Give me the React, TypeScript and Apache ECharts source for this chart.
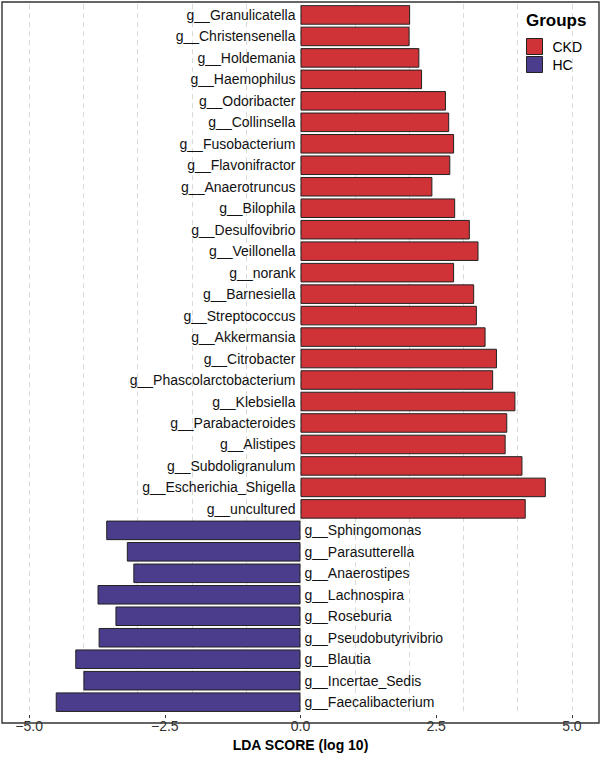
import React, { useEffect, useRef } from "react";
import * as echarts from "echarts";

const categories = [
  "g__Granulicatella", "g__Christensenella", "g__Holdemania", "g__Haemophilus",
  "g__Odoribacter", "g__Collinsella", "g__Fusobacterium", "g__Flavonifractor",
  "g__Anaerotruncus", "g__Bilophila", "g__Desulfovibrio", "g__Veillonella",
  "g__norank", "g__Barnesiella", "g__Streptococcus", "g__Akkermansia",
  "g__Citrobacter", "g__Phascolarctobacterium", "g__Klebsiella", "g__Parabacteroides",
  "g__Alistipes", "g__Subdoligranulum", "g__Escherichia_Shigella", "g__uncultured",
  "g__Sphingomonas", "g__Parasutterella", "g__Anaerostipes", "g__Lachnospira",
  "g__Roseburia", "g__Pseudobutyrivibrio", "g__Blautia", "g__Incertae_Sedis",
  "g__Faecalibacterium",
];

const groups = [
  "CKD", "CKD", "CKD", "CKD", "CKD", "CKD", "CKD", "CKD", "CKD", "CKD", "CKD", "CKD",
  "CKD", "CKD", "CKD", "CKD", "CKD", "CKD", "CKD", "CKD", "CKD", "CKD", "CKD", "CKD",
  "HC", "HC", "HC", "HC", "HC", "HC", "HC", "HC", "HC",
];

const ldaScores = [
  2.02, 2.01, 2.19, 2.24, 2.68, 2.74, 2.83, 2.76, 2.43, 2.85, 3.12, 3.28,
  2.83, 3.2, 3.25, 3.41, 3.62, 3.55, 3.96, 3.81, 3.78, 4.09, 4.52, 4.15,
  -3.58, -3.2, -3.08, -3.74, -3.41, -3.72, -4.15, -4.0, -4.51,
];

const groupNames = ["CKD", "HC"];
const groupColors = ["#CF3338", "#4B3C8C"];
const xTickValues = [-5, -2.5, 0, 2.5, 5];
const gridValues = [-5, -4, -3, -2, -1, 0, 1, 2, 3, 4, 5];

const FONT = "'Liberation Sans', Arial, Helvetica, sans-serif";

export default function App() {
  const ref = useRef<HTMLDivElement>(null);

  useEffect(() => {
    if (!ref.current) return;
    const chart = echarts.init(ref.current, null, { renderer: "svg" });

    const series = groupNames.map((g, gi) => ({
      name: g,
      type: "bar",
      stack: "lda",
      xAxisIndex: 0,
      barCategoryGap: "9%",
      data: ldaScores.map((v, i) => (groups[i] === g ? v : null)),
      itemStyle: {
        color: groupColors[gi],
        borderColor: "#222222",
        borderWidth: 1,
      },
      label: {
        show: true,
        position: gi === 0 ? "left" : "right",
        distance: gi === 0 ? 5 : 4,
        formatter: (p: any) => p.name,
        color: "#111111",
        fontSize: 14,
        fontFamily: FONT,
      },
    }));

    const fmt = (v: number) => {
      const s = Math.abs(v).toFixed(1);
      return v < 0 ? "\u2212" + s : s;
    };

    chart.setOption({
      animation: false,
      backgroundColor: "#ffffff",
      textStyle: { fontFamily: FONT },
      title: {
        text: "Groups",
        left: 526,
        top: 12,
        padding: 0,
        textStyle: { fontSize: 17, fontWeight: "bold", color: "#000000", fontFamily: FONT },
      },
      legend: {
        data: groupNames,
        orient: "vertical",
        left: 526,
        top: 38,
        padding: 0,
        itemWidth: 16,
        itemHeight: 16,
        itemGap: 1,
        icon: "rect",
        itemStyle: { borderColor: "#222222", borderWidth: 1 },
        textStyle: { fontSize: 14, color: "#000000", fontFamily: FONT, padding: [0, 0, 0, 5] },
      },
      grid: {
        left: 2,
        right: 1,
        top: 4.2,
        bottom: 36.2,
        containLabel: false,
      },
      xAxis: [
        {
          type: "value",
          min: -5.5,
          max: 5.5,
          offset: 2.2,
          position: "bottom",
          axisLine: { show: false },
          axisTick: {
            show: true,
            length: 3,
            customValues: xTickValues,
            lineStyle: { color: "#333333", width: 1 },
          },
          axisLabel: {
            show: true,
            customValues: xTickValues,
            formatter: fmt,
            margin: 4,
            fontSize: 14,
            color: "#333333",
            fontFamily: FONT,
          },
          splitLine: { show: false },
          name: "LDA SCORE (log 10)",
          nameLocation: "middle",
          nameGap: 19,
          nameTextStyle: { fontSize: 14, fontWeight: "bold", color: "#000000", fontFamily: FONT },
        },
        {
          type: "value",
          min: -5.5,
          max: 5.5,
          position: "bottom",
          axisLine: { show: false },
          axisTick: { show: false, customValues: gridValues },
          axisLabel: { show: false, customValues: gridValues },
          splitLine: {
            show: true,
            lineStyle: { color: "#d9d9d9", width: 1, type: [5, 4] },
          },
        },
      ],
      yAxis: {
        type: "category",
        data: categories,
        inverse: true,
        axisLine: { show: false },
        axisTick: { show: false },
        axisLabel: { show: false },
        splitLine: { show: false },
      },
      graphic: [
        {
          type: "rect",
          x: 0,
          y: 0,
          shape: { x: 2, y: 2, width: 597, height: 721 },
          style: { fill: "none", stroke: "#333333", lineWidth: 1.4 },
          silent: true,
          z: 100,
        },
      ],
      series,
    });

    return () => chart.dispose();
  }, []);

  return (
    <div
      ref={ref}
      style={{ position: "fixed", left: 0, top: 0, width: 600, height: 757, background: "#fff" }}
    />
  );
}
